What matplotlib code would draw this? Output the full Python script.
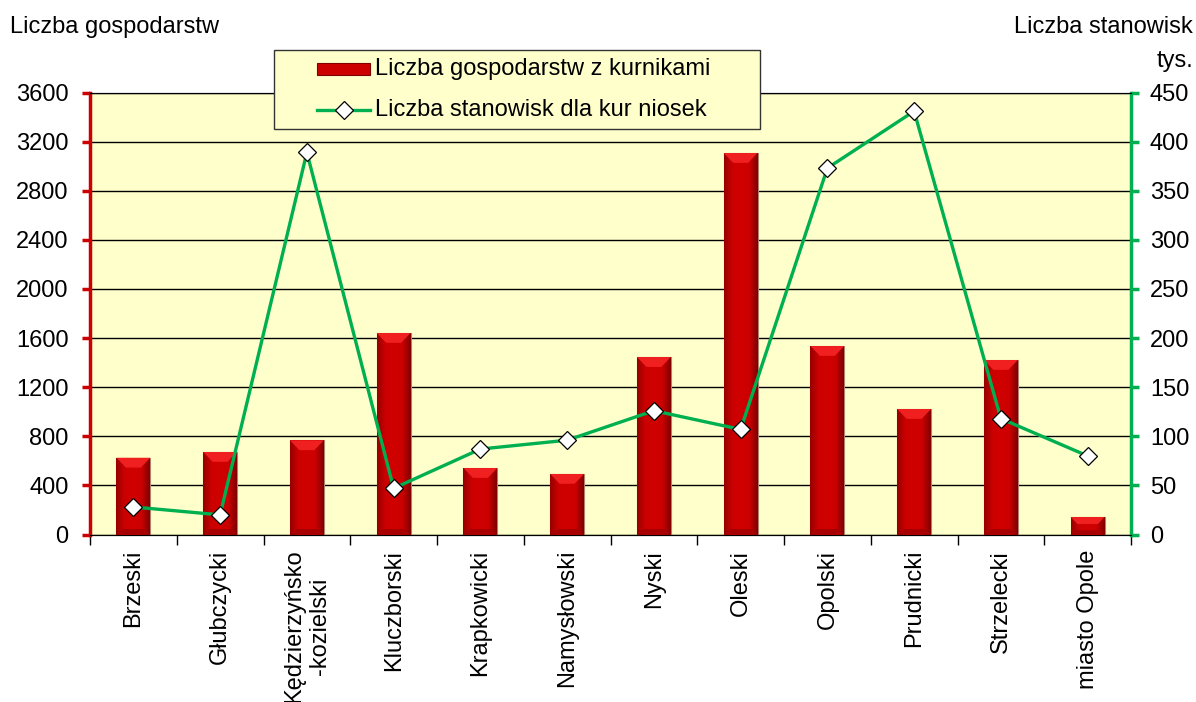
import matplotlib
matplotlib.use("Agg")
import matplotlib.pyplot as plt
import numpy as np
from matplotlib.lines import Line2D
from matplotlib.patches import Rectangle, Polygon
from matplotlib.colors import LinearSegmentedColormap

plt.rcParams["font.family"] = ["Liberation Sans", "DejaVu Sans"]

# dane
powiaty = ["Brzeski", "Głubczycki", "Kędzierzyńsko\n-kozielski", "Kluczborski", "Krapkowicki",
           "Namysłowski", "Nyski", "Oleski", "Opolski", "Prudnicki", "Strzelecki", "miasto Opole"]
gospodarstwa = [625, 672, 767, 1641, 541, 493, 1445, 3107, 1535, 1022, 1421, 142]
stanowiska = [28, 20, 389, 47, 87, 96, 126, 107, 373, 431, 118, 80]

RED, REDD = "#cc0000", "#b08070"
GRN = "#00b050"
BG = "#ffffcc"
FS = 17

fig = plt.figure(figsize=(11.96, 7.02), dpi=100)
ax = fig.add_axes([90 / 1196, 1 - 534.5 / 702, 1041 / 1196, 442 / 702])
ax2 = ax.twinx()

x = np.arange(len(powiaty))
ax.set_facecolor(BG)
bars = ax.bar(x, gospodarstwa, width=0.39, color=RED, edgecolor=REDD, lw=0.8, zorder=3)
ax.set_yticks(np.arange(0, 3601, 400))
ax.yaxis.grid(True, color="black", lw=1.0, zorder=0)
ax.set_axisbelow(True)

# efekt fazowania słupków (jak w Excelu)
cmap = LinearSegmentedColormap.from_list("bev", ["#960000", "#cc0000", "#d00000", "#cc0000", "#800000"])
grad = np.linspace(0, 1, 64).reshape(1, -1)
for b in bars:
    x0, w, h = b.get_x(), b.get_width(), b.get_height()
    im = ax.imshow(grad, cmap=cmap, aspect="auto", extent=(x0, x0 + w, 0, h), zorder=3.1,
                   interpolation="bicubic")
    im.set_clip_path(b)
    d = min(80, h * 0.4)
    ins = w * 0.28 * d / 80
    ax.add_patch(Polygon([(x0, h), (x0 + w, h), (x0 + w - ins, h - d), (x0 + ins, h - d)],
                         closed=True, fc="#f02020", ec="none", zorder=3.2))
    db = min(45, h * 0.25)
    insb = w * 0.2 * db / 45
    ax.add_patch(Polygon([(x0, 0), (x0 + w, 0), (x0 + w - insb, db), (x0 + insb, db)],
                         closed=True, fc="#a80000", ec="none", zorder=3.2))
ax.set_xlim(-0.5, len(powiaty) - 0.5)
ax.set_ylim(0, 3600)

ax2.plot(x, stanowiska, color=GRN, lw=2.4, marker="D", ms=9, mfc="white", mec="black", mew=0.9, zorder=5)
ax2.set_ylim(0, 450)
ax2.set_yticks(np.arange(0, 451, 50))

# osie
for a in (ax, ax2):
    a.spines["top"].set_color("black")
    a.spines["bottom"].set_color("black")
ax.spines["left"].set_color(RED)
ax.spines["left"].set_linewidth(2.5)
ax2.spines["right"].set_color(GRN)
ax2.spines["right"].set_linewidth(2.5)
ax2.spines["left"].set_visible(False)
ax.spines["right"].set_visible(False)

ax.tick_params(axis="y", colors=RED, direction="out", length=5.5, width=2.5, labelsize=FS,
               labelcolor="black", pad=10)
ax2.tick_params(axis="y", colors=GRN, direction="out", length=5.5, width=2.5, labelsize=FS,
                labelcolor="black", pad=8)

ax.set_xticks(x)
ax.set_xticklabels(powiaty, rotation=90, fontsize=FS, multialignment="center")
ax.set_xticks(np.arange(-0.5, len(powiaty)), minor=True)
ax.tick_params(axis="x", which="major", length=0, pad=11)
ax.tick_params(axis="x", which="minor", length=7, width=1, color="black")

# tytuły osi
fig.text(10 / 1196, 1 - 27 / 702, "Liczba gospodarstw", fontsize=FS, ha="left", va="center")
fig.text(1193 / 1196, 1 - 27 / 702, "Liczba stanowisk", fontsize=FS, ha="right", va="center")
fig.text(1193 / 1196, 1 - 61 / 702, "tys.", fontsize=FS, ha="right", va="center")

# legenda (rysowana ręcznie)
W, H = 1196, 702
fig.patches.append(Rectangle((274 / W, 1 - 129 / H), 486 / W, 79 / H, transform=fig.transFigure,
                             fc=BG, ec="#333333", lw=1.0, zorder=10))
fig.patches.append(Rectangle((317 / W, 1 - 75 / H), 53 / W, 12 / H, transform=fig.transFigure,
                             fc=RED, ec="#800000", lw=0.8, zorder=11))
fig.lines.append(Line2D([317 / W, 370 / W], [1 - 110 / H, 1 - 110 / H], transform=fig.transFigure,
                        color=GRN, lw=2.4, zorder=11))
fig.lines.append(Line2D([343.5 / W], [1 - 110 / H], transform=fig.transFigure, marker="D", ms=9,
                        mfc="white", mec="black", mew=0.9, zorder=12))
fig.text(375 / W, 1 - 69 / H, "Liczba gospodarstw z kurnikami", fontsize=FS, ha="left", va="center", zorder=12)
fig.text(375 / W, 1 - 110 / H, "Liczba stanowisk dla kur niosek", fontsize=FS, ha="left", va="center", zorder=12)

fig.savefig("out.png", dpi=100)
